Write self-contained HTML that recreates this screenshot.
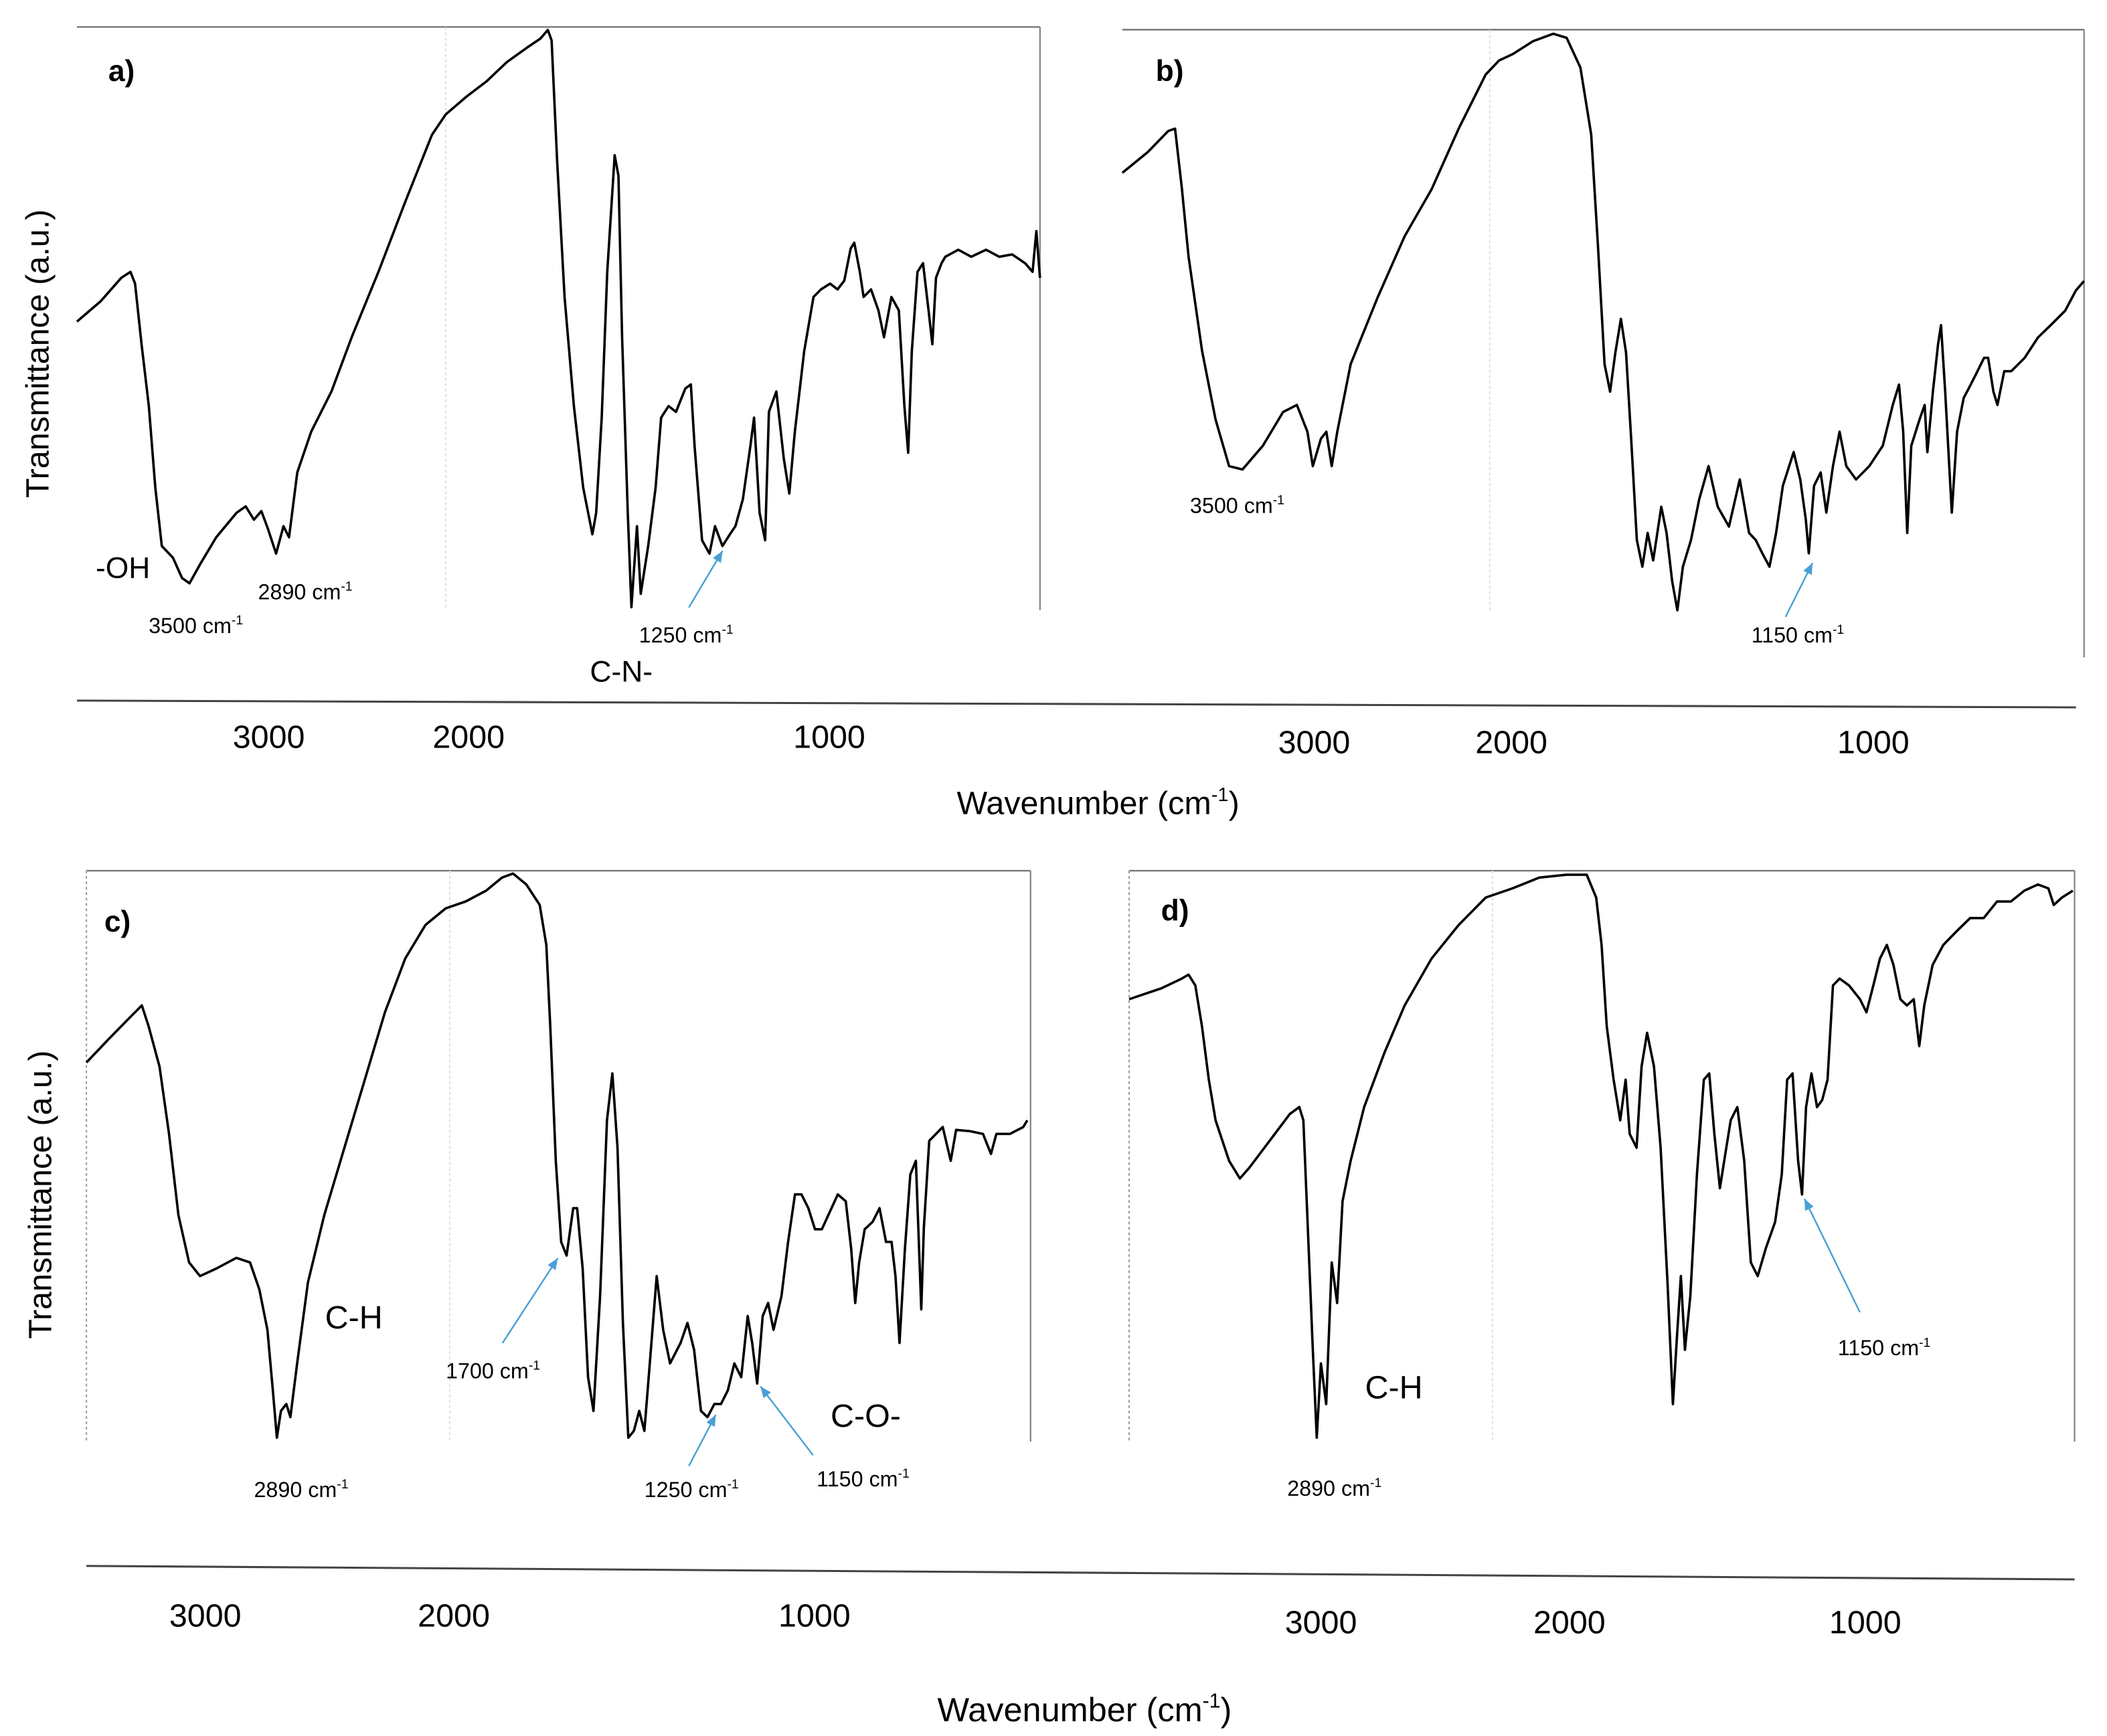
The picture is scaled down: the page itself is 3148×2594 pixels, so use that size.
<!DOCTYPE html>
<html><head><meta charset="utf-8"><style>
html,body{margin:0;padding:0;background:#fff;}
svg{display:block;}
text{font-family:"Liberation Sans",sans-serif;fill:#000;}
</style></head><body>
<svg id="fig" width="3148" height="2594" viewBox="0 0 1560 1286" preserveAspectRatio="none" xmlns="http://www.w3.org/2000/svg">
<g id="frames" fill="none" stroke="#888" stroke-width="1"></g>
<g id="curves"></g>
<g id="labels"></g>
</svg>
<script>
const aWn=[4000,3870,3760,3710,3685,3650,3610,3575,3540,3480,3430,3390,3330,3245,3135,3085,3040,3000,2965,2920,2880,2850,2805,2730,2620,2510,2365,2220,2075,2000,1945,1890,1835,1780,1745,1725,1715,1700,1680,1655,1630,1605,1595,1580,1565,1545,1535,1525,1510,1500,1485,1475,1455,1435,1420,1400,1380,1355,1340,1330,1310,1290,1275,1255,1235,1220,1200,1180,1170,1155,1140,1130,1110,1090,1075,1060,1035,1010,990,965,945,927,910,900,885,875,855,835,820,800,780,765,755,745,730,715,700,690,680,665,655,620,585,545,510,475,440,420,410,400];
const aT=[49.5,53,57,58,56,45.6,35,21,11,9,5.5,4.6,8,12.5,16.7,17.8,15.5,17,14,9.7,14.4,12.5,23.6,30.6,37.5,46.8,58,70,81.5,85,88,90.7,94,96.5,98,99.5,97.7,77,53.7,35,21,13,16.7,33,58,78,74.5,46.8,16.7,0.5,14.4,2.8,11,21,33,35,34,38,38.7,28,12,9.7,14.4,11,13,14.4,19,28,33,16.7,12,34,37.5,26,20,30.6,44.4,53.7,55,56,55,56.5,62,63,58,53.7,55,51.4,46.8,53.7,51.4,35,27,44.4,58,59.5,51.4,45.6,57,59.5,60.6,61.8,60.6,61.8,60.6,61,59.5,58,65,57];
const bWn=[4000,3860,3750,3713,3676,3640,3566,3493,3419,3346,3235,3125,3050,2993,2963,2919,2890,2860,2830,2757,2610,2463,2316,2169,2022,1975,1938,1884,1829,1793,1756,1727,1709,1691,1676,1662,1647,1633,1618,1604,1589,1575,1560,1538,1524,1509,1495,1480,1458,1436,1411,1386,1356,1327,1302,1284,1266,1247,1229,1211,1182,1164,1149,1141,1127,1109,1094,1076,1058,1040,1014,978,942,915,898,887,876,865,843,829,822,807,793,785,774,763,756,742,724,705,687,669,658,644,633,615,596,560,524,487,451,422,400];
const bT=[75.4,79,82.6,83,72.6,61,44.8,33,25,24.4,28.5,34.3,35.5,30.9,25,29.7,30.9,25,30.9,42.5,54,64.5,72.6,83,92.3,94.7,95.8,98,99.3,98.6,93.5,82,63.3,42.5,37.8,44.5,50.3,44.5,28.5,12.3,7.7,13.5,8.8,18,13.5,5.3,0.2,7.7,12.3,19.3,25,18,14.6,22.7,13.5,12.3,10,7.7,13.5,21.6,27.4,22.7,15.8,10,21.6,23.9,17,25,30.9,25,22.7,25,28.5,35.5,39,30.9,13.5,28.5,33,35.5,27.4,37.8,45.9,49.2,37.8,25,17,30.9,36.7,39,41.3,43.6,43.6,37.8,35.5,41.3,41.3,43.6,47.1,49.4,51.7,55.2,56.8];
const cWn=[4000,3881,3770,3695,3658,3598,3546,3494,3435,3375,3286,3175,3100,3048,3004,2974,2952,2929,2900,2877,2840,2781,2691,2580,2468,2357,2245,2134,2022,1956,1900,1856,1826,1789,1752,1734,1723,1708,1693,1678,1660,1649,1634,1619,1604,1586,1567,1552,1538,1523,1508,1493,1478,1464,1449,1430,1412,1393,1364,1345,1327,1308,1290,1271,1253,1234,1216,1197,1179,1167,1153,1138,1123,1108,1086,1068,1049,1031,1012,994,975,957,931,909,894,883,872,857,835,816,798,783,772,761,746,731,716,701,694,679,642,620,605,568,531,509,494,457,420,409];
const cT=[66.4,70.4,74,76.4,72.8,65.7,54,39.7,31.4,29,30.3,32.2,31.4,26.7,19.6,9,0.7,5.4,6.6,4.3,13.7,27.9,39.7,51.5,63.4,75.2,84.6,90.5,93.4,94.6,96.5,98.8,99.5,97.6,94,87,72.8,49.2,35,32.6,40.9,40.9,30.3,11.3,5.4,25.5,56.3,64.5,51.5,20.8,0.7,1.9,5.4,1.9,13.7,29,19.6,13.7,17.3,20.8,16.1,5.4,4.3,6.6,6.6,9,13.7,11.3,22,17.3,10.2,22,24.3,19.6,25.5,35,43.3,43.3,40.9,37.2,37.2,39.7,43.3,42.1,33.8,24.3,31.4,37.2,38.5,40.9,35,35,29,17.3,33.8,46.8,49.2,23.2,37.4,52.7,55.1,49.2,54.6,54.4,53.9,50.4,53.9,53.9,55.1,56.3];
const dWn=[4000,3822,3710,3673,3636,3599,3561,3524,3450,3390,3338,3227,3115,3063,3041,3019,2989,2967,2944,2915,2885,2855,2825,2781,2706,2595,2483,2335,2186,2037,1945,1871,1797,1741,1715,1700,1686,1667,1649,1634,1623,1604,1590,1575,1556,1538,1519,1504,1493,1482,1471,1456,1438,1419,1404,1390,1375,1360,1345,1327,1308,1290,1271,1249,1223,1205,1190,1175,1160,1149,1138,1123,1108,1094,1079,1064,1046,1020,990,972,953,935,916,898,879,861,842,827,813,790,761,724,687,650,613,575,538,501,472,457,435,405];
const dT=[77.5,79.4,81.1,81.8,79.9,72.8,63.4,56.3,49.2,46.1,48,52.7,57.4,58.6,56.3,39.7,16.1,0.7,13.7,6.6,31.4,24.3,42.1,49.2,58.6,68.1,76.4,84.6,90.5,95.3,96.9,98.8,99.3,99.3,95.3,87,72.8,63.4,56.3,63.4,53.9,51.5,65.7,71.6,65.7,51.5,27.9,6.6,18.4,29,16.1,25.5,46.8,63.4,64.5,53.9,44.4,50.4,56.3,58.6,49.2,31.4,29,33.8,38.5,46.8,63.4,64.5,49.2,43.3,58.6,64.5,58.6,59.8,63.4,79.9,81.1,79.9,77.5,75.2,79.9,84.6,87,83.5,77.5,76.4,77.5,69.3,76.4,83.5,87,89.4,91.7,91.7,94.6,94.6,96.5,97.6,96.9,94,95.3,96.5];

const panels=[
 {id:'a',wn:aWn,t:aT,L:57,G:330,R:770,T:20,B:452},
 {id:'b',wn:bWn,t:bT,L:831,G:1103,R:1543,T:22,B:453},
 {id:'c',wn:cWn,t:cT,L:64,G:333,R:763,T:645,B:1068},
 {id:'d',wn:dWn,t:dT,L:836,G:1105,R:1536,T:645,B:1068}
];
const NS='http://www.w3.org/2000/svg';
function xScale(p,w){return w>=2000? p.L+(4000-w)/2000*(p.G-p.L) : p.G+(2000-w)/1600*(p.R-p.G);}
function yScale(p,v){return p.B-v/100*(p.B-p.T);}
const frames=document.getElementById('frames'),curves=document.getElementById('curves'),labels=document.getElementById('labels');
function line(x1,y1,x2,y2,attrs,parent){const l=document.createElementNS(NS,'line');l.setAttribute('x1',x1);l.setAttribute('y1',y1);l.setAttribute('x2',x2);l.setAttribute('y2',y2);for(const k in attrs)l.setAttribute(k,attrs[k]);parent.appendChild(l);return l;}
panels.forEach(p=>{
 const top=line(p.L,p.T,p.R,p.T,{stroke:'#777','stroke-width':1.2},frames);
 
 
 const rb=(p.id==='b')?487:p.B;
 const rt=line(p.R,p.T,p.R,rb,{stroke:'#777','stroke-width':1},frames);
 
 
 if(p.id==='c'||p.id==='d'){const lf=line(p.L,p.T,p.L,p.B,{stroke:'#999','stroke-width':1,'stroke-dasharray':'2,2'},frames);
  
  }
 const g=line(p.G,p.T,p.G,p.B,{stroke:'#ddd','stroke-width':1,'stroke-dasharray':'2,2'},frames);
 
 
 let d='';p.wn.forEach((w,i)=>{d+=(i?'L':'M')+xScale(p,w).toFixed(1)+','+yScale(p,p.t[i]).toFixed(1);});
 const path=document.createElementNS(NS,'path');path.setAttribute('d',d);path.setAttribute('fill','none');path.setAttribute('stroke','#000');path.setAttribute('stroke-width','1.8');path.setAttribute('stroke-linejoin','round');
 
 
 curves.appendChild(path);
});
const ax1=line(57,519,1537,524,{stroke:'#444','stroke-width':1.5},frames);


const ax2=line(64,1160,1536,1170,{stroke:'#444','stroke-width':1.5},frames);



const tickLabels=['3000','2000','1000'];
const tickRows=[{xs:[199,347,614],y:554},{xs:[973,1119,1387],y:558},{xs:[152,336,603],y:1205},{xs:[978,1162,1381],y:1210}];
function txt(s,x,y,size,opts,name){const t=document.createElementNS(NS,'text');t.setAttribute('x',x);t.setAttribute('y',y);t.setAttribute('font-size',size);t.setAttribute('text-anchor',(opts&&opts.anchor)||'middle');if(opts&&opts.bold)t.setAttribute('font-weight','bold');if(opts&&opts.rot)t.setAttribute('transform','rotate(-90 '+x+' '+y+')');if(opts&&opts.fill)t.setAttribute('fill',opts.fill);
 if(opts&&opts.sup){t.textContent=s;const sp=document.createElementNS(NS,'tspan');sp.setAttribute('font-size',size*0.6);sp.setAttribute('dy',-size*0.4);sp.textContent=opts.sup;t.appendChild(sp);if(opts.after){const a=document.createElementNS(NS,'tspan');a.setAttribute('dy',size*0.4);a.textContent=opts.after;t.appendChild(a);}}
 else t.textContent=s;
 
 
 labels.appendChild(t);return t;}
tickRows.forEach((r,ri)=>r.xs.forEach((x,i)=>txt(tickLabels[i],x,r.y,24,{},'x-tick-'+tickLabels[i])));
txt('Wavenumber (cm',813,603,24,{sup:'-1',after:')'},'x-axis-title-top');
txt('Wavenumber (cm',803,1275,25,{sup:'-1',after:')'},'x-axis-title-bottom');
txt('Transmittance (a.u.)',36,262,24,{rot:1},'y-axis-title-top');
txt('Transmittance (a.u.)',38,885,24,{rot:1},'y-axis-title-bottom');
txt('a)',90,60,22,{bold:1},'panel-label-a');
txt('b)',866,60,22,{bold:1},'panel-label-b');
txt('c)',87,690,22,{bold:1},'panel-label-c');
txt('d)',870,682,22,{bold:1},'panel-label-d');
const ann=[['3500 cm',145,469,'ann-3500-a'],['2890 cm',226,444,'ann-2890-a'],['1250 cm',508,476,'ann-1250-a'],['3500 cm',916,380,'ann-3500-b'],['1150 cm',1331,476,'ann-1150-b'],['2890 cm',223,1109,'ann-2890-c'],['1700 cm',365,1021,'ann-1700-c'],['1250 cm',512,1109,'ann-1250-c'],['1150 cm',639,1101,'ann-1150-c'],['2890 cm',988,1108,'ann-2890-d'],['1150 cm',1395,1004,'ann-1150-d']];
ann.forEach(a=>txt(a[0],a[1],a[2],16,{sup:'-1'},a[3]));
txt('-OH',91,428,22,{},'group-oh');
txt('C-N-',460,505,22,{},'group-cn');
txt('C-H',262,984,24,{},'group-ch-c');
txt('C-O-',641,1057,24,{},'group-co');
txt('C-H',1032,1036,24,{},'group-ch-d');
const arrows=[[510,450,535,408],[1322,457,1342,417],[372,995,413,932],[510,1086,530,1048],[602,1078,563,1027],[1377,972,1336,888]];
arrows.forEach((a,i)=>{
 line(a[0],a[1],a[2],a[3],{stroke:'#4a9fd5','stroke-width':1.2},labels);
 const ang=Math.atan2(a[3]-a[1],a[2]-a[0]);const s=9;
 const p1=[a[2]-s*Math.cos(ang-0.4),a[3]-s*Math.sin(ang-0.4)],p2=[a[2]-s*Math.cos(ang+0.4),a[3]-s*Math.sin(ang+0.4)];
 const pg=document.createElementNS(NS,'polygon');pg.setAttribute('points',a[2]+','+a[3]+' '+p1.join(',')+' '+p2.join(','));pg.setAttribute('fill','#4a9fd5');
 
 
 labels.appendChild(pg);
});
</script>
</body></html>
